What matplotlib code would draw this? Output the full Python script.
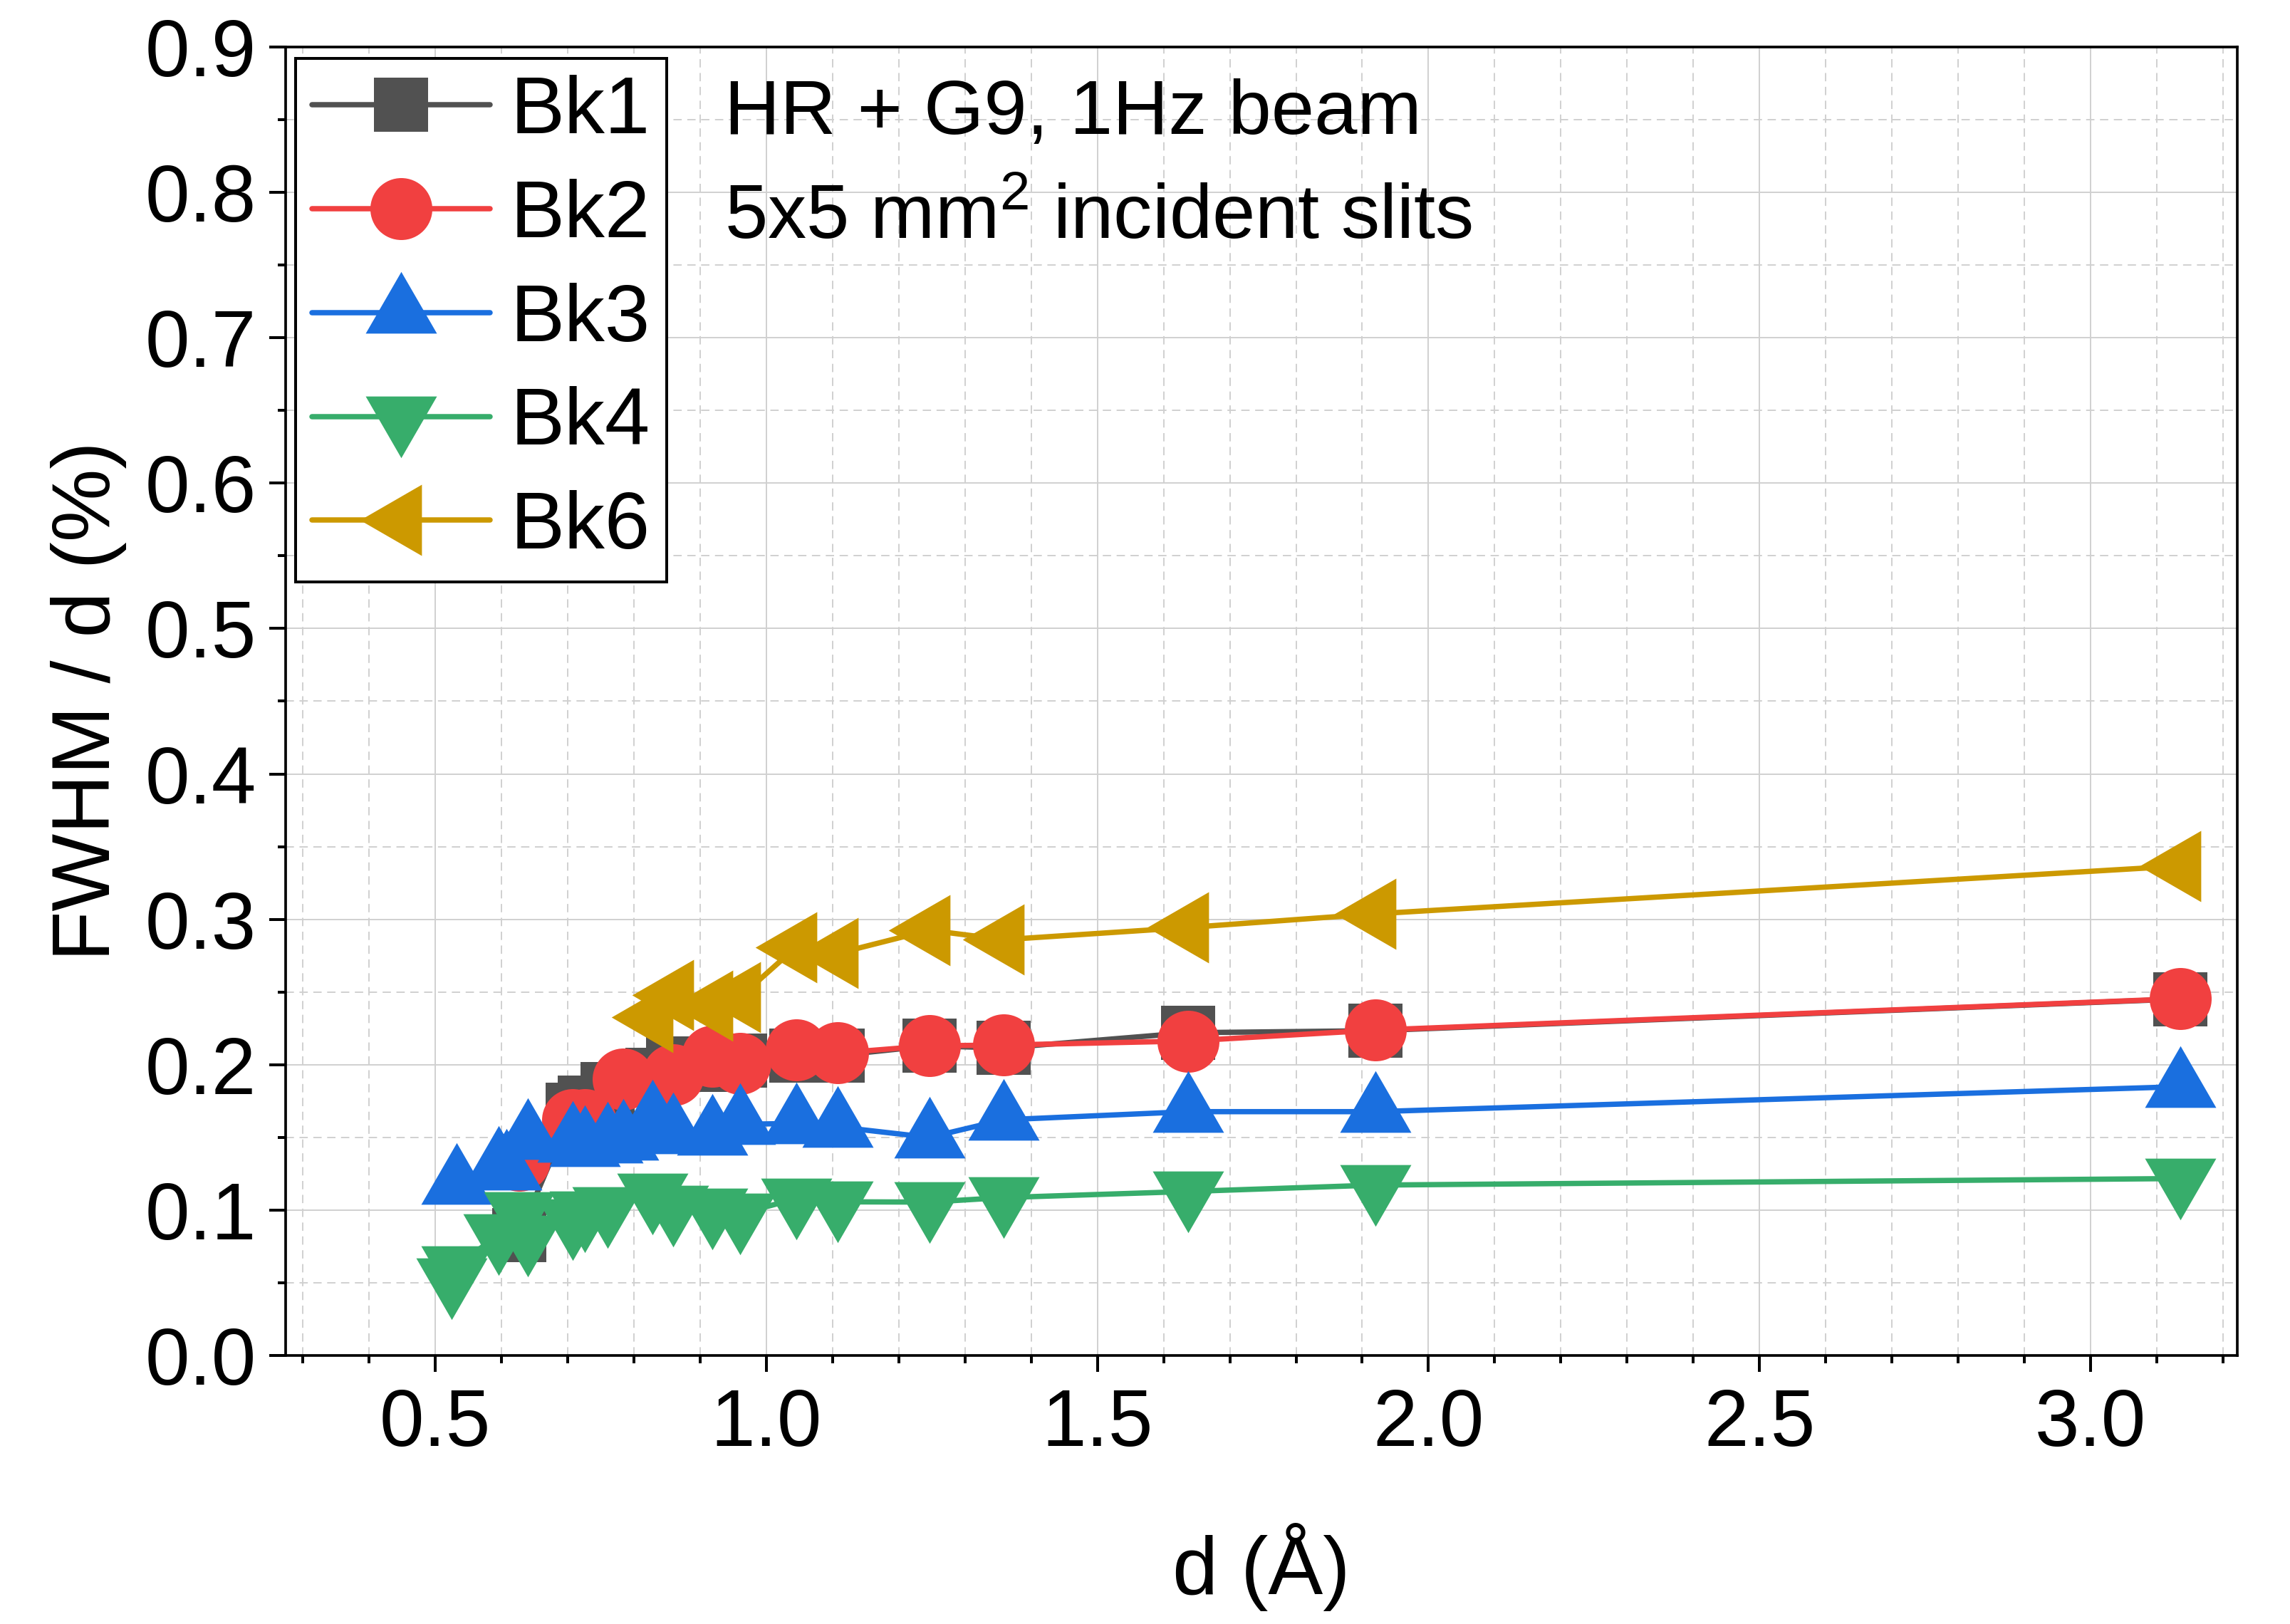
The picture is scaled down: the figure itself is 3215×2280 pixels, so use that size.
import numpy as np
import matplotlib
matplotlib.use("Agg")
import matplotlib.pyplot as plt
from matplotlib.path import Path
from matplotlib.ticker import MultipleLocator, FormatStrFormatter

plt.rcParams['font.family'] = ['Liberation Sans', 'DejaVu Sans']
plt.rcParams['mathtext.fontset'] = 'custom'
plt.rcParams['mathtext.rm'] = 'Liberation Sans'
plt.rcParams['mathtext.it'] = 'Liberation Sans'

# ---------------- data ----------------
bk1_x = [0.627, 0.707, 0.726, 0.760, 0.828, 0.859, 0.918, 0.960, 1.045, 1.108, 1.246, 1.358, 1.637, 1.920, 3.136]
bk1_y = [0.083, 0.169, 0.174, 0.183, 0.193, 0.201, 0.200, 0.203, 0.2064, 0.2064, 0.213, 0.2115, 0.222, 0.2234, 0.2452]

bk2_x = [0.627, 0.707, 0.726, 0.784, 0.859, 0.918, 0.960, 1.045, 1.108, 1.246, 1.358, 1.637, 1.920, 3.136]
bk2_y = [0.134, 0.162, 0.162, 0.190, 0.193, 0.206, 0.201, 0.210, 0.208, 0.213, 0.2135, 0.2163, 0.2238, 0.2454]

bk3_x = [0.532, 0.596, 0.607, 0.640, 0.707, 0.726, 0.760, 0.784, 0.828, 0.859, 0.918, 0.960, 1.045, 1.108, 1.246, 1.358, 1.637, 1.920, 3.136]
bk3_y = [0.118, 0.130, 0.128, 0.1487, 0.147, 0.144, 0.1466, 0.1485, 0.1618, 0.153, 0.152, 0.159, 0.1596, 0.1572, 0.150, 0.1621, 0.1677, 0.1677, 0.1849]

bk4_x = [0.525, 0.532, 0.596, 0.627, 0.640, 0.707, 0.726, 0.760, 0.828, 0.859, 0.918, 0.960, 1.045, 1.108, 1.246, 1.358, 1.637, 1.920, 3.136]
bk4_y = [0.053, 0.061, 0.0835, 0.0987, 0.0825, 0.0936, 0.0989, 0.102, 0.111, 0.103, 0.101, 0.0975, 0.1078, 0.1057, 0.1055, 0.1086, 0.1128, 0.1172, 0.1217]

bk6_x = [0.828, 0.859, 0.918, 0.960, 1.045, 1.108, 1.246, 1.358, 1.637, 1.920, 3.136]
bk6_y = [0.2325, 0.2477, 0.2404, 0.2464, 0.2809, 0.2766, 0.2925, 0.286, 0.2944, 0.3038, 0.3367]

labels = ['Bk1', 'Bk2', 'Bk3', 'Bk4', 'Bk6']
colors = ['#515151', '#F14040', '#1A6FDF', '#37AD6B', '#CC9900']

xlim = (0.274, 3.2216)
ylim = (0.0, 0.9)

# ---------------- markers (triangles centred on centroid) ----------------
def tri(angle_deg):
    h = np.sqrt(3) / 2
    pts = np.array([[0, 2 * h / 3], [-0.5, -h / 3], [0.5, -h / 3], [0, 2 * h / 3]])
    a = np.deg2rad(angle_deg)
    R = np.array([[np.cos(a), -np.sin(a)], [np.sin(a), np.cos(a)]])
    pts = pts @ R.T
    return Path(pts, [Path.MOVETO, Path.LINETO, Path.LINETO, Path.CLOSEPOLY])

tri_up = tri(0)
tri_down = tri(180)
tri_left = tri(90)

px = 0.72  # points per pixel at dpi 100
tri_ms = 100 * px / 0.866
markers = ['s', 'o', tri_up, tri_down, tri_left]
msizes = [76 * px, 87 * px, tri_ms, tri_ms, tri_ms]

# ---------------- figure ----------------
W, H = 3216, 2280
fig = plt.figure(figsize=(W / 100, H / 100), dpi=100)
L, R, T, B = 401, 3141, 66, 1903
ax = fig.add_axes([L / W, 1 - B / H, (R - L) / W, (B - T) / H])

series = [(bk1_x, bk1_y), (bk2_x, bk2_y), (bk3_x, bk3_y), (bk4_x, bk4_y), (bk6_x, bk6_y)]
for i, ((xs, ys), lab, c, m, ms) in enumerate(zip(series, labels, colors, markers, msizes)):
    ax.plot(xs, ys, color=c, lw=7.5 * px, marker=m, ms=ms, mew=0, mfc=c,
            label=lab, solid_capstyle='round', zorder=3 + i)

ax.set_xlim(*xlim)
ax.set_ylim(*ylim)

ax.xaxis.set_major_locator(MultipleLocator(0.5))
ax.xaxis.set_minor_locator(MultipleLocator(0.1))
ax.yaxis.set_major_locator(MultipleLocator(0.1))
ax.yaxis.set_minor_locator(MultipleLocator(0.05))
ax.xaxis.set_major_formatter(FormatStrFormatter('%.1f'))
ax.yaxis.set_major_formatter(FormatStrFormatter('%.1f'))

ax.grid(which='major', color='#d0d0d0', lw=1.4, ls='-')
ax.grid(which='minor', color='#d0d0d0', lw=1.4, ls=(0, (6, 4)))
ax.set_axisbelow(True)

for s in ax.spines.values():
    s.set_linewidth(3.7 * px)
    s.set_color('black')

ax.tick_params(which='major', direction='out', length=23 * px, width=4 * px,
               labelsize=81, top=False, right=False)
ax.tick_params(which='minor', direction='out', length=11 * px, width=4 * px,
               top=False, right=False)
ax.tick_params(axis='x', which='major', pad=16)
ax.tick_params(axis='y', which='major', pad=13)

ax.set_xlabel('d (Å)', fontsize=83, va='baseline')
ax.xaxis.set_label_coords(0.5, (B - 2238) / (B - T))
ax.set_ylabel('FWHM / d (%)', fontsize=83)
ax.yaxis.set_label_coords((178 - L) / (R - L), 0.5)

ax.text(0.225, (B - 188) / (B - T), 'HR + G9, 1Hz beam', transform=ax.transAxes,
        fontsize=78, va='baseline', ha='left')
ax.text(0.225, (B - 336) / (B - T), r'5x5 mm$^\mathregular{2}$ incident slits',
        transform=ax.transAxes, fontsize=78, va='baseline', ha='left')

leg = ax.legend(loc='upper left', bbox_to_anchor=(415 / W, 1 - 82 / H),
                bbox_transform=fig.transFigure, borderaxespad=0, fontsize=82,
                handlelength=2.2, handletextpad=0.25, borderpad=0.2,
                labelspacing=0.35, fancybox=False, framealpha=1, edgecolor='black')
leg.get_frame().set_linewidth(4 * px)
leg.set_zorder(20)

fig.savefig('out.png', dpi=100)
